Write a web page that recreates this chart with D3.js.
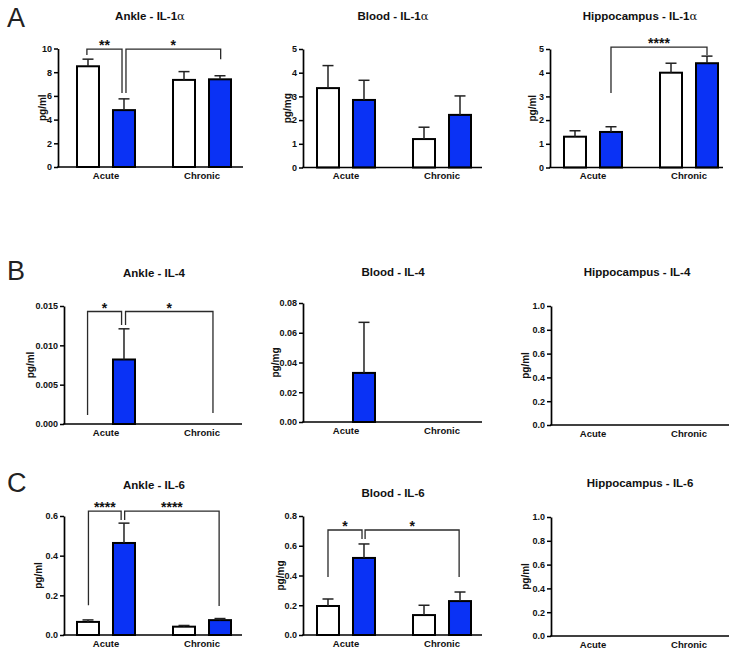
<!DOCTYPE html>
<html>
<head>
<meta charset="utf-8">
<script src="https://cdn.jsdelivr.net/npm/d3@7/dist/d3.min.js"></script>
<style>
  html, body { margin: 0; padding: 0; background: #fff; }
  svg { display: block; font-family: "Liberation Sans", Arial, Helvetica, sans-serif; }
</style>
</head>
<body>
<svg id="chart" width="735" height="652"></svg>
<script>
// ---------------- DATA ----------------
const groups = ["Acute", "Chronic"];
const seriesNames = ["Control", "Treated"]; // white, blue

// means in order: Acute-white, Acute-blue, Chronic-white, Chronic-blue
const ankleIL1aMean = [8.5, 4.8, 7.35, 7.4];
const ankleIL1aSem  = [0.6, 0.95, 0.7, 0.3];
const bloodIL1aMean = [3.35, 2.85, 1.2, 2.22];
const bloodIL1aSem  = [0.95, 0.83, 0.5, 0.8];
const hippoIL1aMean = [1.3, 1.5, 4.0, 4.4];
const hippoIL1aSem  = [0.25, 0.22, 0.4, 0.3];

const ankleIL4Mean = [0, 0.0082, 0, 0];
const ankleIL4Sem  = [0, 0.0039, 0, 0];
const bloodIL4Mean = [0, 0.033, 0, 0];
const bloodIL4Sem  = [0, 0.034, 0, 0];
const hippoIL4Mean = [0, 0, 0, 0];
const hippoIL4Sem  = [0, 0, 0, 0];

const ankleIL6Mean = [0.066, 0.464, 0.042, 0.075];
const ankleIL6Sem  = [0.01, 0.1, 0.006, 0.008];
const bloodIL6Mean = [0.195, 0.518, 0.134, 0.228];
const bloodIL6Sem  = [0.047, 0.094, 0.066, 0.061];
const hippoIL6Mean = [0, 0, 0, 0];
const hippoIL6Sem  = [0, 0, 0, 0];

// tick values
const ticksAnkleIL1a = [0, 2, 4, 6, 8, 10];
const ticksBloodIL1a = [0, 1, 2, 3, 4, 5];
const ticksHippoIL1a = [0, 1, 2, 3, 4, 5];
const ticksAnkleIL4  = [0, 0.005, 0.010, 0.015];
const ticksBloodIL4  = [0, 0.02, 0.04, 0.06, 0.08];
const ticksHippo     = [0, 0.2, 0.4, 0.6, 0.8, 1.0];
const ticksAnkleIL6  = [0, 0.2, 0.4, 0.6];
const ticksBloodIL6  = [0, 0.2, 0.4, 0.6, 0.8];

// significance brackets: [from bar index, to bar index, top value, left-leg bottom, right-leg bottom, label, from nudge, to nudge] (nudges in bar widths)
const ankleIL1aSig = [
  [0, 1, 9.95, 9.45, 6.25, "**", -0.05, -0.09],
  [1, 3, 9.95, 6.25, 9.1, "*", 0.09, 0.03]
];
const hippoIL1aSig = [
  [1, 3, 5.08, 3.14, 4.75, "****", 0, 0]
];
const ankleIL4Sig = [
  [0, 1, 0.0143, 0.00114, 0.0126, "*", -0.02, -0.11],
  [1, 3, 0.0143, 0.0126, 0.0014, "*", 0.07, -0.32]
];
const ankleIL6Sig = [
  [0, 1, 0.625, 0.15, 0.58, "****", 0.02, -0.13],
  [1, 3, 0.625, 0.58, 0.146, "****", 0.03, -0.04]
];
const bloodIL6Sig = [
  [0, 1, 0.706, 0.39, 0.645, "*", 0, -0.09],
  [1, 3, 0.706, 0.645, 0.39, "*", 0.05, -0.04]
];

// ---------------- LAYOUT ----------------
const blue = "#0a32f5";
const panels = [
  {title: "Ankle - IL-1", greek: "α", ylab: "pg/ml", mean: ankleIL1aMean, sem: ankleIL1aSem, ticks: ticksAnkleIL1a, fmt: d3.format("d"), sig: ankleIL1aSig,
   ax: 58, aend: 243, br: [77, 231], y0: 167, y1: 48.5, ty: 20, tx: 150, ylx: 46},
  {title: "Blood - IL-1", greek: "α", ylab: "pg/mg", mean: bloodIL1aMean, sem: bloodIL1aSem, ticks: ticksBloodIL1a, fmt: d3.format("d"), sig: [],
   ax: 303, aend: 482, br: [317, 471], y0: 167.5, y1: 49, ty: 20, tx: 393, ylx: 291},
  {title: "Hippocampus - IL-1", greek: "α", ylab: "pg/ml", mean: hippoIL1aMean, sem: hippoIL1aSem, ticks: ticksHippoIL1a, fmt: d3.format("d"), sig: hippoIL1aSig,
   ax: 550, aend: 723, br: [564, 718], y0: 167.5, y1: 49, ty: 20, tx: 640, ylx: 536},

  {title: "Ankle - IL-4", ylab: "pg/ml", mean: ankleIL4Mean, sem: ankleIL4Sem, ticks: ticksAnkleIL4, fmt: d3.format(".3f"), sig: ankleIL4Sig,
   ax: 64, aend: 242, br: [77, 231], y0: 424, y1: 306, ty: 277, tx: 154, ylx: 34},
  {title: "Blood - IL-4", ylab: "pg/mg", mean: bloodIL4Mean, sem: bloodIL4Sem, ticks: ticksBloodIL4, fmt: d3.format(".2f"), sig: [],
   ax: 303, aend: 482, br: [317, 471], y0: 422, y1: 303, ty: 276, tx: 393, ylx: 279},
  {title: "Hippocampus - IL-4", ylab: "pg/ml", mean: hippoIL4Mean, sem: hippoIL4Sem, ticks: ticksHippo, fmt: d3.format(".1f"), sig: [],
   ax: 551, aend: 729, br: [564, 718], y0: 425, y1: 306, ty: 276, tx: 637, ylx: 529},

  {title: "Ankle - IL-6", ylab: "pg/ml", mean: ankleIL6Mean, sem: ankleIL6Sem, ticks: ticksAnkleIL6, fmt: d3.format(".1f"), sig: ankleIL6Sig,
   ax: 64, aend: 242, br: [77, 231], y0: 635, y1: 516, ty: 489, tx: 154, ylx: 42},
  {title: "Blood - IL-6", ylab: "pg/mg", mean: bloodIL6Mean, sem: bloodIL6Sem, ticks: ticksBloodIL6, fmt: d3.format(".1f"), sig: bloodIL6Sig,
   ax: 303, aend: 482, br: [317, 471], y0: 635, y1: 516, ty: 497, tx: 393, ylx: 284},
  {title: "Hippocampus - IL-6", ylab: "pg/ml", mean: hippoIL6Mean, sem: hippoIL6Sem, ticks: ticksHippo, fmt: d3.format(".1f"), sig: [],
   ax: 551, aend: 729, br: [564, 718], y0: 636, y1: 517, ty: 487, tx: 640, ylx: 529}
];
const letters = [["A", 27], ["B", 280], ["C", 492]];

// ---------------- DRAW ----------------
const svg = d3.select("#chart");

letters.forEach(([t, yb]) => {
  svg.append("text").attr("x", 7).attr("y", yb)
    .attr("font-size", 27).attr("fill", "#222").text(t);
});

panels.forEach(p => {
  const g = svg.append("g");
  const y = d3.scaleLinear().domain([p.ticks[0], p.ticks[p.ticks.length - 1]]).range([p.y0, p.y1]);
  const xg = d3.scaleBand().domain(groups).range(p.br).paddingInner(0.396).paddingOuter(0);
  const xs = d3.scaleBand().domain([0, 1]).range([0, xg.bandwidth()]).paddingInner(0.389).paddingOuter(0);
  const bw = xs.bandwidth();
  const barX = i => xg(groups[Math.floor(i / 2)]) + xs(i % 2);
  const barC = i => barX(i) + bw / 2;

  // title
  const t = g.append("text").attr("x", p.tx).attr("y", p.ty).attr("text-anchor", "middle")
    .attr("font-size", 11.5).attr("font-weight", "bold").attr("fill", "#111").text(p.title);
  if (p.greek) {
    t.append("tspan").attr("font-family", "'DejaVu Serif', 'Liberation Serif', serif")
      .attr("font-weight", "normal").attr("font-size", 11.5).text(p.greek);
  }

  // bars
  const idx = d3.range(p.mean.length).filter(i => p.mean[i] > 0);
  g.selectAll("rect.bar").data(idx).join("rect")
    .attr("x", i => barX(i)).attr("width", bw)
    .attr("y", i => y(p.mean[i])).attr("height", i => y(0) - y(p.mean[i]))
    .attr("fill", i => i % 2 === 0 ? "#fff" : blue)
    .attr("stroke", "#000").attr("stroke-width", 2);

  // error bars (upper only)
  const capW = 11;
  idx.filter(i => p.sem[i] > 0).forEach(i => {
    const cx = barC(i), yt = y(p.mean[i] + p.sem[i]), yb = y(p.mean[i]);
    g.append("line").attr("x1", cx).attr("x2", cx).attr("y1", yb).attr("y2", yt)
      .attr("stroke", "#222").attr("stroke-width", 1.5);
    g.append("line").attr("x1", cx - capW / 2).attr("x2", cx + capW / 2).attr("y1", yt).attr("y2", yt)
      .attr("stroke", "#222").attr("stroke-width", 1.5);
  });

  // significance brackets
  p.sig.forEach(([a, b, top, la, lb, lab, na, nb]) => {
    const x1 = barC(a) + na * bw, x2 = barC(b) + nb * bw;
    g.append("path")
      .attr("d", `M${x1},${y(la)}V${y(top)}H${x2}V${y(lb)}`)
      .attr("fill", "none").attr("stroke", "#2a2a2a").attr("stroke-width", 1.3);
    g.append("text").attr("x", (x1 + x2) / 2).attr("y", y(top) + 1)
      .attr("text-anchor", "middle").attr("font-size", 14).attr("font-weight", "bold")
      .attr("fill", "#111").text(lab);
  });

  // y axis
  const yAxis = g.append("g").attr("transform", `translate(${p.ax},0)`)
    .call(d3.axisLeft(y).tickValues(p.ticks).tickFormat(p.fmt).tickSize(4).tickSizeOuter(0).tickPadding(2));
  yAxis.select(".domain").attr("stroke", "#000").attr("stroke-width", 1.7);
  yAxis.selectAll(".tick line").attr("stroke", "#000").attr("stroke-width", 1.5);
  yAxis.selectAll(".tick text").attr("font-size", 9).attr("font-weight", "bold")
    .attr("fill", "#111").attr("font-family", "'Liberation Sans', Arial, sans-serif");

  // x axis line
  g.append("line").attr("x1", p.ax - 0.85).attr("x2", p.aend).attr("y1", p.y0).attr("y2", p.y0)
    .attr("stroke", "#000").attr("stroke-width", 1.7);
  // category labels
  const xAxis = g.append("g").attr("transform", `translate(0,${p.y0})`)
    .call(d3.axisBottom(xg).tickSize(0).tickPadding(5));
  xAxis.select(".domain").remove();
  xAxis.selectAll(".tick text").attr("font-size", 9.5).attr("font-weight", "bold")
    .attr("fill", "#111").attr("font-family", "'Liberation Sans', Arial, sans-serif");

  // y label
  g.append("text")
    .attr("transform", `translate(${p.ylx},${(p.y0 + p.y1) / 2}) rotate(-90)`)
    .attr("text-anchor", "middle").attr("font-size", 10).attr("font-weight", "bold")
    .attr("fill", "#111").text(p.ylab);
});
</script>
</body>
</html>
